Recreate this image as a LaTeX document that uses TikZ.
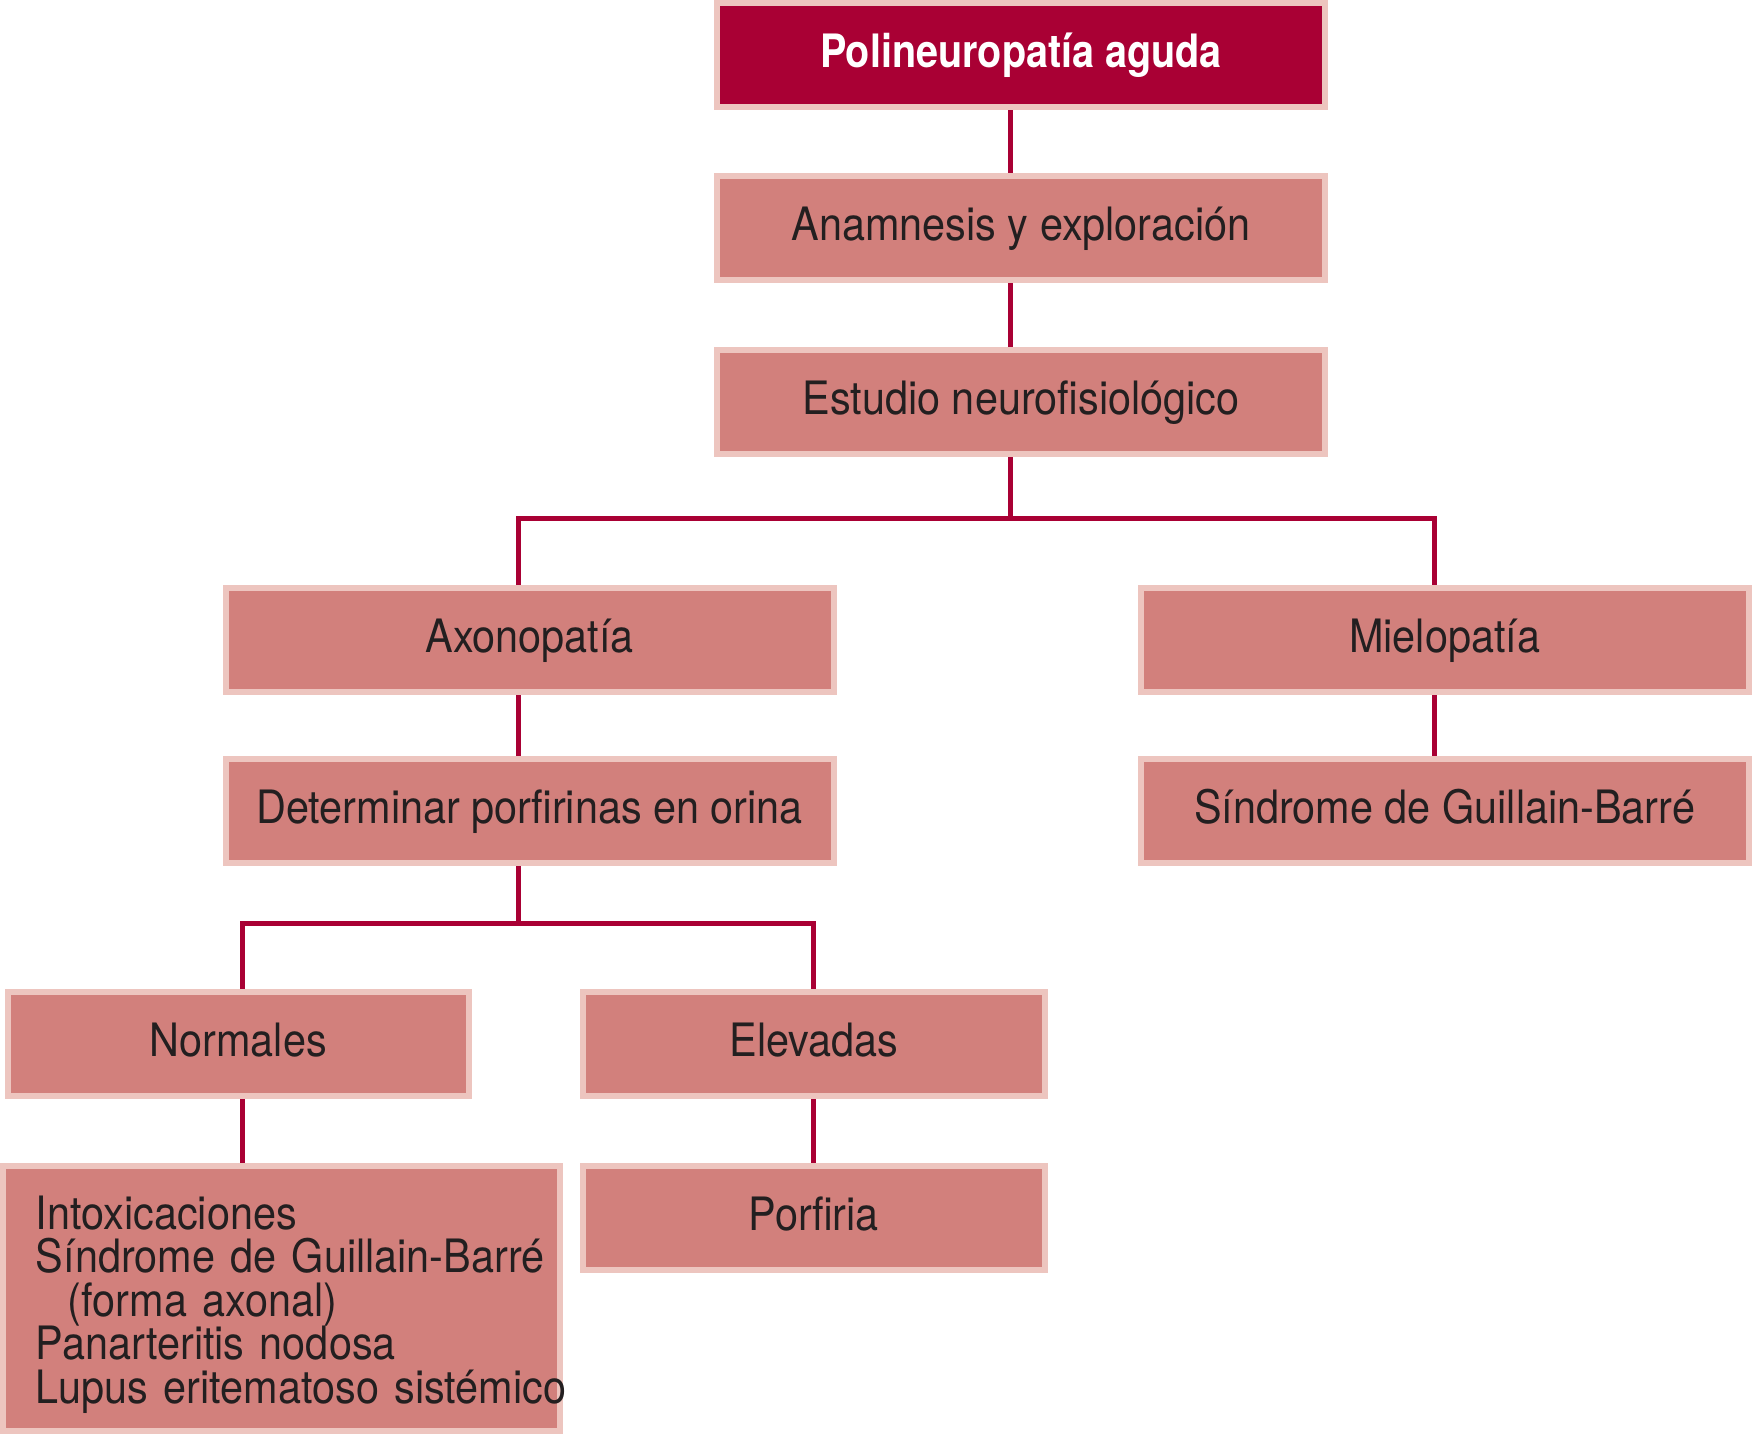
\documentclass[tikz,border=0pt]{standalone}
\usepackage{fontspec}
\setmainfont{TeX Gyre Heros}[FakeStretch=0.9]
\newfontfamily\titulo{TeX Gyre Heros}[FakeStretch=0.86]
\usetikzlibrary{backgrounds}

\definecolor{granate}{RGB}{169,0,52}
\definecolor{rosa}{RGB}{210,128,124}
\definecolor{rosaclaro}{RGB}{237,197,191}
\definecolor{tinta}{RGB}{35,31,32}

\tikzset{every picture/.style={line width=0.75pt}}
\tikzset{
  caja/.style={draw=rosaclaro, line width=3pt, fill=rosa, text=tinta,
    inner sep=0pt, font=\fontsize{23}{21.8}\selectfont},
  cajauna/.style={caja, minimum height=52pt, text height=17pt, text depth=4.5pt},
  conector/.style={draw=granate, line width=2.5pt}
}

\begin{document}
\begin{tikzpicture}[x=0.5pt,y=0.5pt,yscale=-1,xscale=1]
\useasboundingbox (0,0) rectangle (1754,1435);

%Shape: Rectangle (title)
\node [cajauna, fill=granate, text=white, minimum width=304pt, font=\fontsize{23}{21.8}\titulo\bfseries] (poli) at (1021,55) {Polineuropatía aguda};
%Shape: Rectangle
\node [cajauna, minimum width=304pt] (anam) at (1021,228) {Anamnesis y exploración};
%Shape: Rectangle
\node [cajauna, minimum width=304pt] (estud) at (1021,401.6) {Estudio neurofisiológico};
%Shape: Rectangle
\node [cajauna, minimum width=304pt] (axon) at (529.6,639.5) {Axonopatía};
%Shape: Rectangle
\node [cajauna, minimum width=304pt] (mielo) at (1444.6,639.5) {Mielopatía};
%Shape: Rectangle
\node [cajauna, minimum width=304pt] (deter) at (529.6,811) {Determinar porfirinas en orina};
%Shape: Rectangle
\node [cajauna, minimum width=304pt] (sgb) at (1444.6,811) {Síndrome de Guillain-Barré};
%Shape: Rectangle
\node [cajauna, minimum width=230.75pt] (normal) at (238.3,1043.7) {Normales};
%Shape: Rectangle
\node [cajauna, minimum width=230.75pt] (elev) at (813.8,1043.7) {Elevadas};
%Shape: Rectangle
\node [cajauna, minimum width=230.75pt] (porf) at (813.8,1218) {Porfiria};
%Shape: Rectangle (list)
\node [caja, minimum height=132.3pt, text width=245.5pt, inner xsep=16.4pt, align=left] (causas) at (281.4,1298.7)
  {\rule{0pt}{22.6pt}\mbox{Intoxicaciones}\\
   \mbox{Síndrome de Guillain-Barré}\\
   \mbox{\hspace*{16pt}(forma axonal)}\\
   \mbox{Panarteritis nodosa}\\
   \mbox{Lupus eritematoso sistémico}};

%Forks
\coordinate (fork1) at (1010,518);
\coordinate (fork2) at (518,923);

\begin{scope}[on background layer]
%Straight Lines
\draw [conector] ([xshift=-5.5pt]poli.south) -- ([xshift=-5.5pt]anam.north);
%Straight Lines
\draw [conector] ([xshift=-5.5pt]anam.south) -- ([xshift=-5.5pt]estud.north);
%Straight Lines
\draw [conector] (estud.south -| fork1) -- (fork1);
%Straight Lines
\draw [conector] ([xshift=-5.8pt]axon.north) |- (fork1) -| ([xshift=-5.3pt]mielo.north);
%Straight Lines
\draw [conector] ([xshift=-5.8pt]axon.south) -- ([xshift=-5.8pt]deter.north);
%Straight Lines
\draw [conector] ([xshift=-5.3pt]mielo.south) -- ([xshift=-5.3pt]sgb.north);
%Straight Lines
\draw [conector] (deter.south -| fork2) -- (fork2);
%Straight Lines
\draw [conector] ([xshift=2.2pt]normal.north) |- (fork2) -| (elev.north);
%Straight Lines
\draw [conector] ([xshift=2.2pt]normal.south) -- ([xshift=2.2pt]normal.south |- causas.north);
%Straight Lines
\draw [conector] (elev.south) -- (porf.north);
\end{scope}

\end{tikzpicture}
\end{document}
